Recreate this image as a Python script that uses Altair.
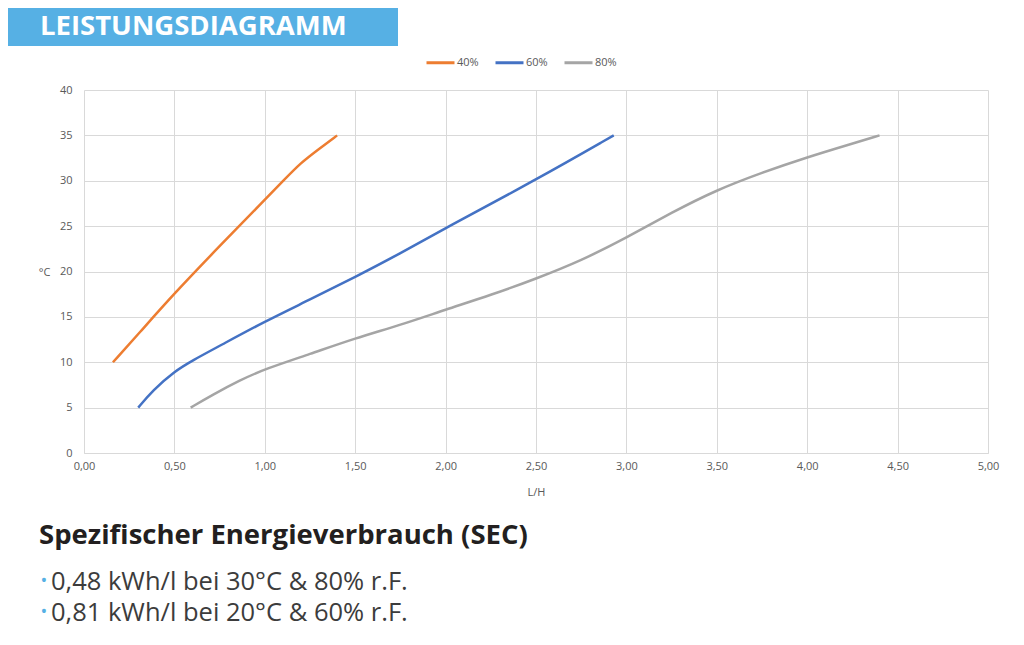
import altair as alt
import pandas as pd

# ---- data ----
series_names = ["40%", "60%", "80%"]
series_colors = ["#ED7D31", "#4472C4", "#A5A5A5"]

x40 = [0.16, 0.30, 0.50, 0.75, 1.00, 1.10, 1.20, 1.30, 1.40]
y40 = [10.0, 13.1, 17.6, 22.8, 27.9, 29.95, 32.0, 33.5, 35.0]

x60 = [0.30, 0.38, 0.50, 0.60, 0.75, 1.00, 1.25, 1.50, 1.75, 2.00, 2.50, 2.93]
y60 = [5.0, 6.9, 9.0, 10.2, 11.8, 14.5, 16.9, 19.4, 22.0, 24.8, 30.1, 35.0]

x80 = [0.59, 0.71, 0.86, 1.00, 1.25, 1.50, 1.75, 2.00, 2.25, 2.50, 2.75, 3.00, 3.25, 3.50, 3.75, 4.00, 4.25, 4.40]
y80 = [5.0, 6.4, 8.0, 9.25, 10.9, 12.65, 14.1, 15.8, 17.4, 19.2, 21.2, 23.7, 26.5, 29.0, 30.9, 32.6, 34.1, 35.0]

x_ticks = [0, 0.5, 1, 1.5, 2, 2.5, 3, 3.5, 4, 4.5, 5]
y_ticks = [0, 5, 10, 15, 20, 25, 30, 35, 40]

banner_text = ["LEISTUNGSDIAGRAMM"]
heading_text = ["Spezifischer Energieverbrauch (SEC)"]
bullet_lines = ["0,48 kWh/l bei 30°C & 80% r.F.", "0,81 kWh/l bei 20°C & 60% r.F."]
bullet_y = [500, 531]

rows = []
for name, xs, ys in zip(series_names, [x40, x60, x80], [y40, y60, y80]):
    for i, (a, b) in enumerate(zip(xs, ys)):
        rows.append({"Serie": name, "LH": a, "T": b, "i": i})
df = pd.DataFrame(rows)

FONT = "Open Sans"
GRAY = "#595959"
GRID = "#D9D9D9"
W, H = 904, 363

lines = alt.Chart(df).mark_line(strokeWidth=2.5, interpolate="basis").encode(
    x=alt.X("LH:Q", title="L/H", scale=alt.Scale(domain=[0, 5], nice=False),
            axis=alt.Axis(values=x_ticks, grid=True, gridColor=GRID, domainColor=GRID,
                          ticks=False, labelPadding=7, labelFontSize=11, labelColor=GRAY,
                          labelFlush=False,
                          labelFont=FONT, titleFont=FONT, titleFontSize=11, titleColor=GRAY,
                          titleFontWeight="normal", titleY=39, titleBaseline="middle",
                          labelExpr="replace(format(datum.value, '.2f'), '.', ',')")),
    y=alt.Y("T:Q", title="°C", scale=alt.Scale(domain=[0, 40], nice=False),
            axis=alt.Axis(values=y_ticks, grid=True, gridColor=GRID, domain=False,
                          ticks=False, labelPadding=12, labelFontSize=11, labelColor=GRAY,
                          labelFlush=False,
                          labelFont=FONT, titleFont=FONT, titleFontSize=11, titleColor=GRAY,
                          titleFontWeight="normal", titleAngle=0, titleX=-40, titleY=182,
                          titleAlign="center", titleBaseline="middle")),
    color=alt.Color("Serie:N", scale=alt.Scale(domain=series_names, range=series_colors),
                    legend=alt.Legend(title=None, orient="none", legendX=341, legendY=-43,
                                      direction="horizontal", symbolType="stroke",
                                      symbolStrokeWidth=3, symbolSize=784, labelFontSize=11,
                                      labelColor=GRAY, labelFont=FONT, labelOffset=1,
                                      columnPadding=10)),
    order="i:Q",
)

banner_rect = alt.Chart(pd.DataFrame({"t": banner_text})).mark_rect(color="#56B0E4").encode(
    x=alt.value(-76), x2=alt.value(314), y=alt.value(-82), y2=alt.value(-44)
)
banner = alt.Chart(pd.DataFrame({"t": banner_text})).mark_text(
    font=FONT, fontSize=27.5, fontWeight="bold", color="white", align="left", baseline="middle"
).encode(text="t:N", x=alt.value(-44), y=alt.value(-63))

heading = alt.Chart(pd.DataFrame({"t": heading_text})).mark_text(
    font=FONT, fontSize=27.5, fontWeight="bold", color="#231F20", align="left", baseline="alphabetic"
).encode(text="t:N", x=alt.value(-45), y=alt.value(454))

layers = [lines, banner_rect, banner, heading]
for txt, yy in zip(bullet_lines, bullet_y):
    d = pd.DataFrame({"t": [txt]})
    layers.append(alt.Chart(d).mark_text(
        font=FONT, fontSize=25.5, color="#3C3C3C", align="left", baseline="alphabetic"
    ).encode(text="t:N", x=alt.value(-33), y=alt.value(yy)))
    layers.append(alt.Chart(d).mark_text(
        font=FONT, fontSize=18, color="#56B0E4", align="center", baseline="alphabetic", text="•"
    ).encode(x=alt.value(-40), y=alt.value(yy - 3)))

chart = alt.layer(*layers).properties(
    width=W, height=H,
    autosize=alt.AutoSizeParams(type="none"),
    padding={"left": 76, "top": 82, "right": 20, "bottom": 175},
    background="white",
).configure_view(stroke=None)

chart.save("out.html", embed_options={"renderer": "svg", "actions": False})
